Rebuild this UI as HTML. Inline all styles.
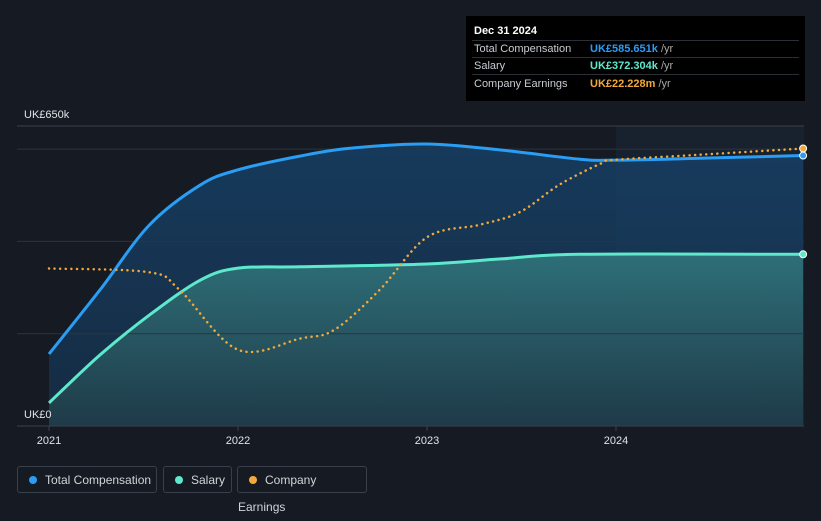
<!DOCTYPE html>
<html><head><meta charset="utf-8"><style>
body{margin:0;background:#151a23;width:821px;height:508px;overflow:hidden;font-family:"Liberation Sans",sans-serif}
svg{position:absolute;left:0;top:0}
.tt{position:absolute;left:466px;top:16px;width:339px;height:85px;background:#000;color:#fff;font-size:11px}
.tt .r{position:absolute;left:8px}
.leg{position:absolute;top:466px;height:27px;border:1px solid #3a404b;border-radius:3px;color:#d0d4da;font-size:12px;line-height:27px;box-sizing:border-box}
.dot{display:inline-block;width:8px;height:8px;border-radius:50%;margin:0 8px 0 11px}
</style></head><body>
<svg id="c" width="821" height="508"></svg>
<div class="tt">
<div class="r" style="top:9px;font-weight:bold">Dec 31 2024</div>
<div class="r" style="top:27px;color:#c8ccd2">Total Compensation</div><div class="r" style="top:27px;left:124px"><span style="color:#2a9df4;font-weight:bold">UK£585.651k</span> <span style="color:#aaa">/yr</span></div>
<div class="r" style="top:44px;color:#c8ccd2">Salary</div><div class="r" style="top:44px;left:124px"><span style="color:#5ee8cc;font-weight:bold">UK£372.304k</span> <span style="color:#aaa">/yr</span></div>
<div class="r" style="top:62px;color:#c8ccd2">Company Earnings</div><div class="r" style="top:62px;left:124px"><span style="color:#f2a93b;font-weight:bold">UK£22.228m</span> <span style="color:#aaa">/yr</span></div>
<div style="position:absolute;left:6px;right:6px;top:24px;border-top:1px solid #2a2f38"></div>
<div style="position:absolute;left:6px;right:6px;top:41px;border-top:1px solid #2a2f38"></div>
<div style="position:absolute;left:6px;right:6px;top:58px;border-top:1px solid #2a2f38"></div>
</div>
<div class="leg" style="left:17px;width:140px"><span class="dot" style="background:#2a9df4"></span>Total Compensation</div>
<div class="leg" style="left:163px;width:69px"><span class="dot" style="background:#5ee8cc"></span>Salary</div>
<div class="leg" style="left:237px;width:130px"><span class="dot" style="background:#f2a93b"></span>Company Earnings</div>
<script>
const yearTicks=[2021,2022,2023,2024];
const yTicks=[0,200,400,600,650];
const compX=[2021,2021.27,2021.53,2021.8,2022,2022.33,2022.6,2023,2023.39,2023.81,2024,2024.44,2024.99];
const compV=[156,295,435,522,555,585,602,611,598,578,576,580,586];
const salX=[2021,2021.27,2021.53,2021.8,2022,2022.33,2023,2023.39,2023.81,2024.99];
const salV=[50,154,240,316,342,345,351,362,372,372];
const earnX=[2021,2021.53,2021.69,2022,2022.33,2022.51,2022.75,2023,2023.28,2023.49,2023.7,2023.92,2024,2024.44,2024.99];
const earnV=[12.6,12.3,10.9,6.1,7.0,7.7,10.9,15.1,16.1,17.1,19.3,21.0,21.3,21.7,22.2];
const X=t=>49+(t-2021)*189, Y=v=>426-v*300/650, YE=m=>Y(m*602/22.228);
const s=document.getElementById('c'),NS='http://www.w3.org/2000/svg';
function mk(tag,a,p){const e=document.createElementNS(NS,tag);for(const k in a)e.setAttribute(k,a[k]);(p||s).appendChild(e);return e;}
function path(pts){let d='M'+pts[0][0]+','+pts[0][1];for(let i=0;i<pts.length-1;i++){const p0=pts[i-1]||pts[i],p1=pts[i],p2=pts[i+1],p3=pts[i+2]||p2;
const c1=[p1[0]+(p2[0]-p0[0])/6,p1[1]+(p2[1]-p0[1])/6],c2=[p2[0]-(p3[0]-p1[0])/6,p2[1]-(p3[1]-p1[1])/6];d+=`C${c1} ${c2} ${p2}`;}return d;}
const defs=mk('defs',{});defs.innerHTML='<linearGradient id="gc" x1="0" y1="0" x2="0" y2="1"><stop offset="0" stop-color="#17426a" stop-opacity=".8"/><stop offset="1" stop-color="#15304a" stop-opacity=".8"/></linearGradient><linearGradient id="gs" x1="0" y1="0" x2="0" y2="1"><stop offset="0" stop-color="#2e6f78"/><stop offset="1" stop-color="#1f3a48"/></linearGradient>';
mk('rect',{x:616,y:126,width:188,height:300,fill:'#1b2a3a',opacity:.5,});
const cp=compX.map((t,i)=>[X(t),Y(compV[i])]),sp=salX.map((t,i)=>[X(t),Y(salV[i])]),ep=earnX.map((t,i)=>[X(t),YE(earnV[i])]);
let e=mk('path',{d:path(cp)+`L${X(2024.99)},426L49,426Z`,fill:'url(#gc)'});
e=mk('path',{d:path(sp)+`L${X(2024.99)},426L49,426Z`,fill:'url(#gs)'});
yTicks.forEach(v=>{const g=mk('line',{x1:17,x2:804,y1:Y(v),y2:Y(v),stroke:v==0||v==650?'#3a404b':'#2c3440','stroke-width':1});});
e=mk('path',{d:path(cp),fill:'none',stroke:'#2a9df4','stroke-width':3});
e=mk('path',{d:path(sp),fill:'none',stroke:'#5ee8cc','stroke-width':3});
e=mk('path',{d:path(ep),fill:'none',stroke:'#f2a93b','stroke-width':2.5,'stroke-dasharray':'0.1 5.5','stroke-linecap':'round'});
[[cp,'#2a9df4'],[sp,'#5ee8cc'],[ep,'#f2a93b']].forEach(([p,c])=>{const q=p[p.length-1];const d=mk('circle',{cx:q[0],cy:q[1],r:3.5,fill:c,stroke:'#fff','stroke-width':1});});
yearTicks.forEach(t=>{const l=mk('line',{x1:X(t),x2:X(t),y1:426,y2:431,stroke:'#3a404b'});
const tx=mk('text',{x:X(t),y:444,fill:'#e0e3e8','font-size':11,'text-anchor':'middle'});tx.textContent=t;});
[['UK£650k',118],['UK£0',418]].forEach(([t,y])=>{const tx=mk('text',{x:24,y:y,fill:'#e0e3e8','font-size':11});tx.textContent=t;});
</script>
</body></html>
